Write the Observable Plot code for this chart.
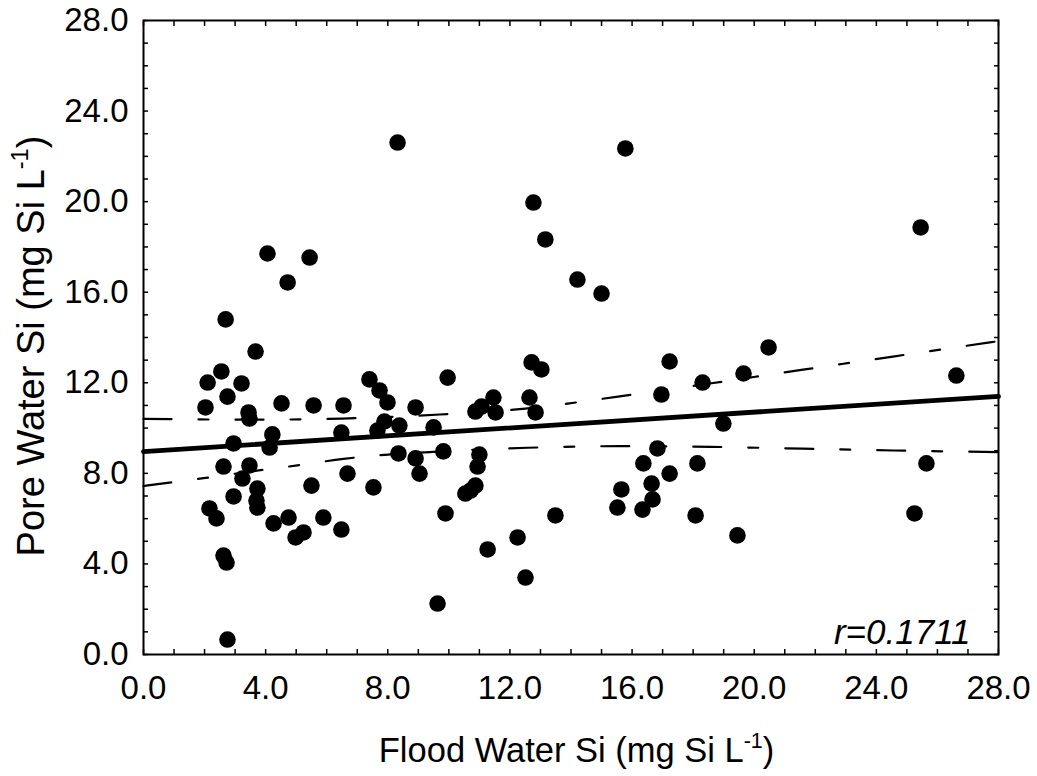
<!DOCTYPE html>
<html>
<head>
<meta charset="utf-8">
<script src="https://cdn.jsdelivr.net/npm/d3@7"></script>
<script src="https://cdn.jsdelivr.net/npm/@observablehq/plot@0.6"></script>
<style>
  html, body { margin: 0; padding: 0; background: #fff; }
  #chart svg { display: block; }
</style>
</head>
<body>
<div id="chart"></div>
<script>
// Flood water Si (x) and pore water Si (y), mg Si L-1
const floodX = [
  4.06, 5.44, 4.72, 2.69, 3.67, 2.55, 2.10, 3.21, 2.75, 2.03,
  3.44, 3.47, 4.52, 5.57, 6.55, 7.40, 7.73, 7.99, 8.91, 9.50,
  8.38, 7.89, 7.66, 6.48, 4.22, 2.95, 4.13, 2.62, 3.47, 3.24,
  8.35, 8.91, 9.04, 6.68, 7.53, 5.50, 3.73, 2.95, 3.70, 3.73,
  2.16, 2.39, 4.26, 4.75, 5.89, 6.48, 4.98, 5.24, 2.62, 2.72,
  2.75,
  9.82, 11.00, 10.94, 10.87, 10.71, 10.54, 9.89, 13.49, 12.25, 11.27,
  12.51, 9.63, 10.87, 11.07, 11.46, 11.53, 12.64, 12.84, 16.96, 18.99,
  16.83, 16.37, 17.23, 18.14, 15.65, 16.64, 15.52, 16.67, 16.34, 18.08,
  15.78, 12.77, 13.16, 14.21, 15.00, 12.71, 13.03, 17.23, 9.96, 18.31,
  8.32,
  25.45, 20.47, 19.65, 26.62, 19.45, 25.64, 25.25
];
const poreY = [
  17.71, 17.53, 16.43, 14.80, 13.38, 12.50, 12.01, 11.97, 11.39, 10.91,
  10.69, 10.42, 11.09, 11.00, 11.00, 12.15, 11.66, 11.13, 10.91, 10.03,
  10.11, 10.29, 9.89, 9.80, 9.72, 9.32, 9.14, 8.30, 8.35, 7.77,
  8.88, 8.66, 7.99, 7.99, 7.38, 7.46, 7.33, 6.98, 6.80, 6.49,
  6.45, 6.01, 5.79, 6.05, 6.05, 5.52, 5.17, 5.39, 4.37, 4.06,
  0.66,
  8.97, 8.83, 8.30, 7.46, 7.24, 7.11, 6.23, 6.14, 5.17, 4.64,
  3.40, 2.25, 10.73, 10.95, 11.35, 10.69, 11.35, 10.69, 11.48, 10.20,
  9.10, 8.44, 7.99, 8.44, 7.29, 7.55, 6.49, 6.85, 6.40, 6.14,
  22.35, 19.96, 18.33, 16.56, 15.94, 12.90, 12.59, 12.94, 12.23, 12.01,
  22.61,
  18.86, 13.56, 12.41, 12.32, 5.26, 8.44, 6.23
];

// Regression line
const fitX = [0, 28];
const fitY = [8.96, 11.40];

// 95% confidence band curves
const upperX = [0, 3.5, 6.5, 9.7, 12.5, 15.6, 18.6, 21.6, 24.6, 28];
const upperY = [10.41, 10.37, 10.42, 10.60, 10.86, 11.40, 11.98, 12.58, 13.17, 13.84];
const lowerX = [0, 2.03, 3.77, 5.04, 6.55, 8.02, 9.5, 12.58, 15.56, 18.57, 21.58, 24.56, 28];
const lowerY = [7.44, 7.80, 8.13, 8.35, 8.64, 8.83, 8.95, 9.13, 9.20, 9.17, 9.09, 9.01, 8.94];

// Axis ticks
const majorTicks = [0, 4, 8, 12, 16, 20, 24, 28];
const minorTicks = d3.range(0, 29, 1);

const corrLabel = "r=0.1711";
const xTitle = ["Flood Water Si (mg Si L", "-1", ")"];
const yTitle = ["Pore Water Si (mg Si L", "-1", ")"];

const points = floodX.map((x, i) => ({x, y: poreY[i]}));
const fit = fitX.map((x, i) => ({x, y: fitY[i]}));
const upper = upperX.map((x, i) => ({x, y: upperY[i]}));
const lower = lowerX.map((x, i) => ({x, y: lowerY[i]}));

const W = 1037, H = 776;
const mL = 143, mR = 39, mT = 20, mB = 122;
const font = "'Liberation Sans', Arial, Helvetica, sans-serif";
const dash = "28,27,10,27";

const chart = Plot.plot({
  width: W,
  height: H,
  marginLeft: mL,
  marginRight: mR,
  marginTop: mT,
  marginBottom: mB,
  style: {fontFamily: font, background: "#fff", overflow: "visible", color: "#000"},
  x: {domain: [0, 28]},
  y: {domain: [0, 28]},
  marks: [
    Plot.axisX(minorTicks, {anchor: "bottom", tickSize: -5, strokeWidth: 1.5, tickFormat: () => "", label: null}),
    Plot.axisX(minorTicks, {anchor: "top", tickSize: -5, strokeWidth: 1.5, tickFormat: () => "", label: null}),
    Plot.axisY(minorTicks, {anchor: "left", tickSize: -5, strokeWidth: 1.5, tickFormat: () => "", label: null}),
    Plot.axisY(minorTicks, {anchor: "right", tickSize: -5, strokeWidth: 1.5, tickFormat: () => "", label: null}),
    Plot.axisX(majorTicks, {anchor: "bottom", tickSize: 0, tickPadding: 21, fontSize: 33, fill: "#000", tickFormat: d => d.toFixed(1), label: null}),
    Plot.axisY(majorTicks, {anchor: "left", tickSize: 0, tickPadding: 15, fontSize: 33, fill: "#000", tickFormat: d => d.toFixed(1), label: null}),
    Plot.line(upper, {x: "x", y: "y", stroke: "#000", strokeWidth: 2.2, strokeDasharray: dash, curve: "monotone-x"}),
    Plot.line(lower, {x: "x", y: "y", stroke: "#000", strokeWidth: 2.2, strokeDasharray: dash, curve: "monotone-x"}),
    Plot.line(fit, {x: "x", y: "y", stroke: "#000", strokeWidth: 4.8}),
    Plot.dot(points, {x: "x", y: "y", r: 8.3, fill: "#000", stroke: "none"}),
    Plot.text([corrLabel], {frameAnchor: "bottom-right", text: d => d, dx: -28, dy: -11, lineAnchor: "bottom", textAnchor: "end", fontSize: 35, fontStyle: "italic", fill: "#000"}),
    Plot.frame({stroke: "#000", strokeWidth: 2})
  ]
});

document.getElementById("chart").appendChild(chart);

// Axis titles with superscripts
const svg = d3.select(chart);
function addTitle(parts, attrs) {
  const t = svg.append("text")
    .attr("font-family", font)
    .attr("font-size", attrs.size)
    .attr("fill", "#000")
    .attr("text-anchor", "middle")
    .attr("transform", attrs.transform);
  t.append("tspan").text(parts[0]);
  t.append("tspan").attr("font-size", attrs.size * 0.62).attr("dy", -attrs.size * 0.42).text(parts[1]);
  t.append("tspan").attr("dy", attrs.size * 0.42).text(parts[2]);
}
addTitle(xTitle, {size: 34.5, transform: `translate(${(mL + W - mR) / 2 + 6},762)`});
addTitle(yTitle, {size: 38, transform: `translate(44,346) rotate(-90)`});
</script>
</body>
</html>
